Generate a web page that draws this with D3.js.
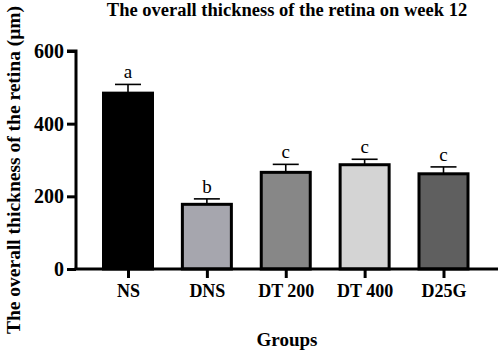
<!DOCTYPE html>
<html><head><meta charset="utf-8">
<script src="https://cdn.jsdelivr.net/npm/d3@7"></script>
<style>body{margin:0;background:#fff}svg{display:block}text{font-family:"Liberation Serif","Times New Roman",serif}</style>
</head><body>
<script>
const groups = ["NS","DNS","DT 200","DT 400","D25G"];
const means = [484, 178, 266, 287, 262];
const errs = [24, 15, 22, 15, 19];
const letters = ["a","b","c","c","c"];
const fills = ["#000000","#a6a6ae","#878787","#d4d4d4","#5f5f5f"];
const yTicks = [0,200,400,600];

const W=498,H=350;
const svg=d3.select("body").append("svg").attr("width",W).attr("height",H);
const y=d3.scaleLinear().domain([0,600]).range([269,51]);
const x=d3.scalePoint().domain(groups).range([128,443.5]);
const bw=49;

svg.selectAll("rect.bar").data(groups).join("rect")
  .attr("x",d=>x(d)-bw/2).attr("width",bw)
  .attr("y",(d,i)=>y(means[i])).attr("height",(d,i)=>y(0)-y(means[i]))
  .attr("fill",(d,i)=>fills[i]).attr("stroke","#000").attr("stroke-width",3);

const eg=svg.append("g").attr("stroke","#000").attr("stroke-width",1.6);
groups.forEach((g,i)=>{
  eg.append("line").attr("x1",x(g)).attr("x2",x(g)).attr("y1",y(means[i])).attr("y2",y(means[i]+errs[i]));
  eg.append("line").attr("x1",x(g)-13).attr("x2",x(g)+13).attr("y1",y(means[i]+errs[i])).attr("y2",y(means[i]+errs[i]));
});

svg.selectAll("text.let").data(groups).join("text")
  .attr("x",d=>x(d)).attr("y",(d,i)=>y(means[i]+errs[i])-6)
  .attr("text-anchor","middle").attr("font-size",19).text((d,i)=>letters[i]);

const ya=svg.append("g").attr("transform","translate(76,0)")
  .call(d3.axisLeft(y).tickValues(yTicks).tickSize(9).tickPadding(3).tickFormat(d3.format("d")));
ya.select(".domain").attr("stroke-width",3).attr("d","M-9,51H0V269");
ya.selectAll(".tick line").attr("stroke-width",3);
ya.selectAll("text").attr("font-size",20).attr("font-weight","bold").attr("font-family","Liberation Serif");

const xa=svg.append("g").attr("transform","translate(0,269)")
  .call(d3.axisBottom(x).tickSize(9).tickPadding(6));
xa.select(".domain").attr("stroke-width",3).attr("d","M74.5,0H498");
xa.selectAll(".tick line").attr("stroke-width",3);
xa.selectAll("text").attr("font-size",18).attr("font-weight","bold").attr("font-family","Liberation Serif");

svg.append("text").attr("x",287).attr("y",15.5).attr("text-anchor","middle")
  .attr("font-size",18.5).attr("font-weight","bold").text("The overall thickness of the retina on week 12");
svg.append("text").attr("x",287).attr("y",346).attr("text-anchor","middle")
  .attr("font-size",19).attr("font-weight","bold").text("Groups");
svg.append("text").attr("transform","translate(20,170) rotate(-90)").attr("text-anchor","middle")
  .attr("font-size",19.5).attr("font-weight","bold").text("The overall thickness of the retina (μm)");
</script>
</body></html>
